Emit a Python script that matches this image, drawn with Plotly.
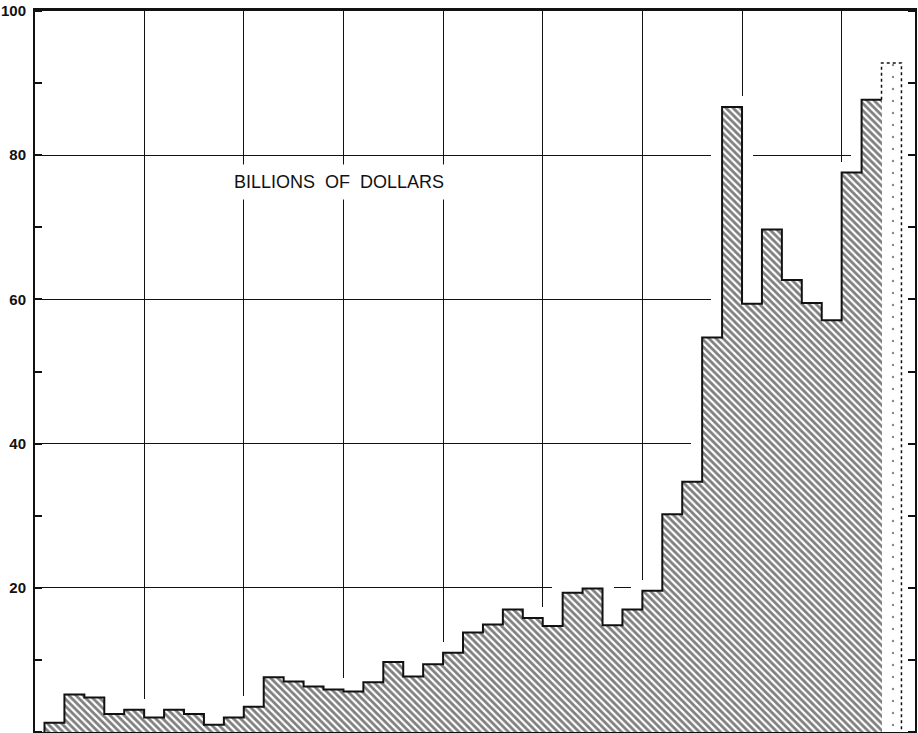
import plotly.graph_objects as go

# ---- data ----
periods = list(range(43))  # consecutive periods, left to right
values = [1.3, 5.2, 4.8, 2.5, 3.1, 2.0, 3.1, 2.5, 1.0, 2.0,
          3.5, 7.6, 7.0, 6.3, 5.9, 5.6, 6.9, 9.7, 7.7, 9.4,
          11.0, 13.8, 14.9, 17.0, 15.8, 14.7, 19.3, 19.9, 14.8, 17.0,
          19.6, 30.2, 34.7, 54.7, 86.7, 59.4, 69.7, 62.7, 59.5, 57.1,
          77.6, 87.7, 92.8]
n_actual = 42            # last period is an estimate (stippled bar)
grid_periods = [5, 10, 15, 20, 25, 30, 35, 40]
y_tick_vals = [0, 20, 40, 60, 80, 100]
y_tick_text = ["0", "20", "40", "60", "80", "100"]
label_text = "BILLIONS  OF  DOLLARS"

INK = "#111111"
centers = [p + 0.5 for p in periods]
act_x, act_y = centers[:n_actual], values[:n_actual]
est_x, est_y = centers[n_actual:], values[n_actual:]

fig = go.Figure()

# white halo so grid lines stop short of the bars
fig.add_trace(go.Bar(x=centers, y=values, width=1,
                     marker=dict(color="white", line=dict(color="white", width=22)),
                     hoverinfo="skip", showlegend=False))
# hatched actual values
fig.add_trace(go.Bar(x=act_x, y=act_y, width=1,
                     marker=dict(color="white", line=dict(width=0),
                                 pattern=dict(shape="\\", fgcolor="#000000", bgcolor="white",
                                              size=5, solidity=0.55, fillmode="overlay")),
                     showlegend=False))
# stippled estimate
fig.add_trace(go.Bar(x=est_x, y=est_y, width=1,
                     marker=dict(color="white", line=dict(width=0),
                                 pattern=dict(shape=".", fgcolor=INK, bgcolor="white",
                                              size=12, solidity=0.03, fillmode="overlay")),
                     showlegend=False))

# step outline of actual values
sx = [periods[0]] + periods[:n_actual] + [periods[n_actual]]
sy = [0] + act_y + [act_y[-1]]
fig.add_trace(go.Scatter(x=sx, y=sy, mode="lines", line=dict(shape="hv", color=INK, width=2),
                         hoverinfo="skip", showlegend=False))
# dotted outline of estimate
ex = [periods[n_actual], periods[n_actual], periods[n_actual] + 1, periods[n_actual] + 1]
ey = [act_y[-1], est_y[0], est_y[0], 0]
fig.add_trace(go.Scatter(x=ex, y=ey, mode="lines", line=dict(color=INK, width=1.5, dash="dot"),
                         hoverinfo="skip", showlegend=False))

fig.add_annotation(x=14.8, y=76.3, xref="x", yref="y", text=label_text, showarrow=False,
                   font=dict(family="Liberation Sans, Arial, sans-serif", size=18, color=INK),
                   bgcolor="white", borderpad=7)

fig.update_layout(
    width=918, height=733,
    margin=dict(l=35, r=3, t=11, b=1),
    paper_bgcolor="white", plot_bgcolor="white",
    barmode="overlay", bargap=0,
    showlegend=False,
)
fig.update_xaxes(range=[-0.477, 43.68], tickmode="array", tickvals=grid_periods,
                 showticklabels=False, ticks="", showgrid=True, gridcolor=INK, gridwidth=1,
                 zeroline=False, showline=True, linecolor=INK, linewidth=2.5, mirror=True,
                 automargin=False)
fig.update_yaxes(range=[0, 100], tickmode="array", tickvals=y_tick_vals, ticktext=y_tick_text,
                 ticks="", showgrid=True, gridcolor=INK, gridwidth=1, zeroline=False,
                 showline=True, linecolor=INK, linewidth=2, mirror="allticks",
                 ticklabelstandoff=4, automargin=False,
                 tickfont=dict(family="Liberation Sans Narrow, Liberation Sans, Arial", size=15,
                               color=INK, weight="bold"),
                 minor=dict(dtick=10, tick0=0, ticks="inside", ticklen=7, tickcolor=INK,
                            tickwidth=1.5, showgrid=False))

fig.write_html("out.html", config={"displayModeBar": False},
               post_script="document.body.style.margin='0';")
